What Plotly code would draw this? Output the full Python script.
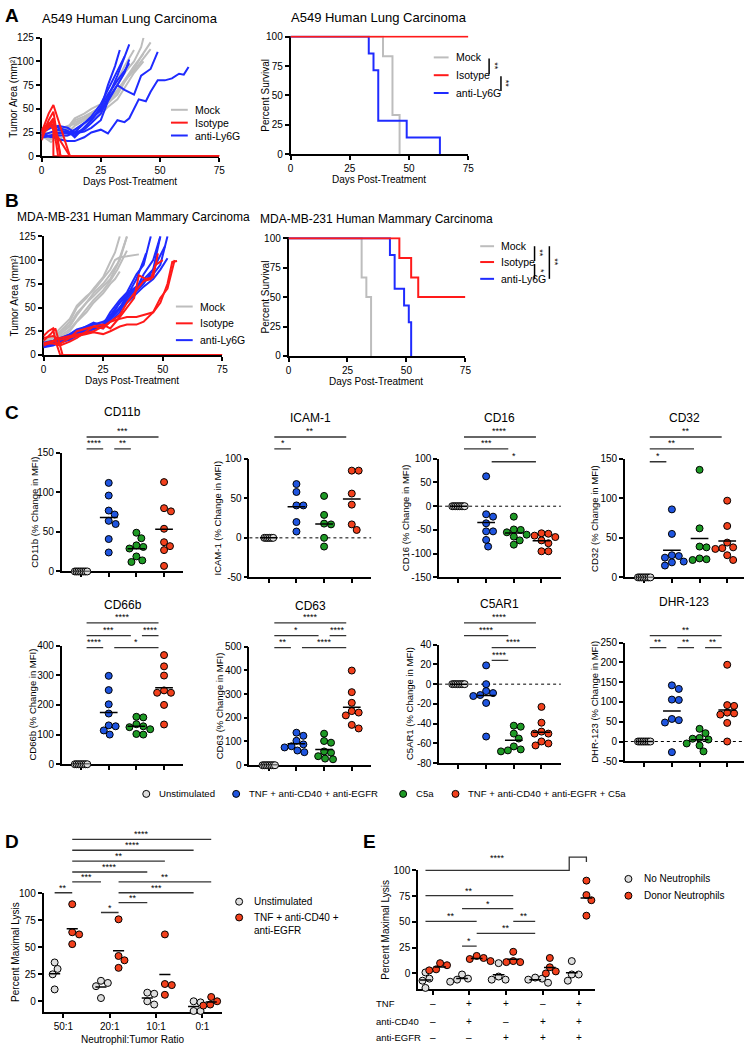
import numpy as np
import plotly.graph_objects as go

W, H = 751, 1050
FONT = "Arial, Liberation Sans, sans-serif"

# ---------------- Panel A: A549 tumour growth ----------------
a_mock_days = [[0, 4, 7, 11, 14, 18, 21, 25, 28, 32, 35, 39],
               [0, 4, 7, 11, 14, 18, 21, 25, 28, 32, 35, 39, 42, 43],
               [0, 4, 7, 11, 14, 18, 21, 25, 28, 32, 35, 39, 43],
               [0, 4, 7, 11, 14, 18, 21, 25, 28, 32, 35, 39, 43],
               [0, 4, 7, 11, 14, 18, 21, 25, 28, 32, 35, 39, 42, 46],
               [0, 4, 7, 11, 14, 18, 21, 25, 28, 32, 35, 39, 42, 46]]
a_mock_area = [[25, 18, 22, 30, 40, 45, 50, 55, 65, 80, 95, 112],
               [22, 15, 20, 28, 38, 42, 46, 52, 62, 75, 88, 100, 115, 125],
               [20, 18, 22, 25, 32, 38, 42, 48, 58, 68, 80, 95, 108],
               [24, 20, 18, 22, 28, 35, 38, 44, 52, 60, 72, 88, 100],
               [18, 22, 25, 30, 36, 40, 44, 50, 56, 65, 78, 92, 105, 120],
               [26, 24, 28, 32, 34, 40, 45, 52, 60, 70, 80, 90, 100, 113]]
a_iso_days = [[0, 3, 5, 12, 75], [0, 3, 5, 8, 75], [0, 2, 5, 5, 75],
              [0, 3, 5, 7, 75], [0, 3, 5, 8, 75], [0, 2, 4, 12, 75]]
a_iso_area = [[25, 45, 54, 0, 0], [20, 38, 47, 0, 0], [17, 30, 40, 0, 0],
              [28, 35, 33, 0, 0], [23, 30, 38, 0, 0], [26, 30, 32, 0, 0]]
a_ly6g_days = [[0, 4, 7, 11, 14, 18, 21, 25, 28, 31, 33],
               [0, 4, 7, 11, 14, 18, 21, 25, 28, 32, 35],
               [0, 4, 7, 11, 14, 18, 21, 25, 28, 32, 35, 37],
               [0, 4, 7, 11, 14, 18, 21, 25, 28, 32, 35, 37],
               [0, 4, 7, 11, 14, 18, 21, 25, 28, 32, 35, 37],
               [0, 4, 7, 11, 14, 18, 21, 25, 28, 32, 35, 39, 42, 46, 49],
               [0, 4, 7, 11, 14, 18, 21, 25, 28, 32, 35, 37, 41, 44, 46, 49, 52, 55, 58, 60, 62]]
a_ly6g_area = [[22, 25, 28, 25, 22, 30, 38, 50, 75, 95, 112],
               [25, 30, 32, 30, 25, 35, 42, 55, 70, 90, 105],
               [20, 22, 25, 24, 28, 35, 40, 48, 62, 85, 105, 118],
               [24, 20, 22, 22, 25, 28, 35, 45, 60, 75, 88, 102],
               [28, 33, 30, 27, 20, 30, 38, 52, 65, 80, 90, 98],
               [22, 22, 24, 26, 24, 26, 30, 38, 58, 75, 70, 65, 85, 92, 110],
               [20, 21, 18, 16, 16, 20, 25, 28, 24, 38, 36, 40, 60, 58, 68, 80, 80, 82, 87, 86, 94]]

# ---------------- Panel A: survival ----------------
a_surv_mock_t = [0, 39, 43, 46]
a_surv_mock_p = [100, 83.3, 33.3, 0]
a_surv_iso_t = [0, 75]
a_surv_iso_p = [100, 100]
a_surv_ly6g_t = [0, 33, 35, 37, 49, 63]
a_surv_ly6g_p = [100, 85.7, 71.4, 28.6, 14.3, 0]

# ---------------- Panel B: MDA-MB-231 tumour growth ----------------
b_mock_days = [[0, 4, 7, 11, 14, 18, 21, 25, 28, 30, 32],
               [0, 4, 7, 11, 14, 18, 21, 25, 28, 32, 35],
               [0, 4, 7, 11, 14, 18, 21, 25, 28, 30, 32, 35, 40],
               [0, 4, 7, 11, 14, 18, 21, 25, 28, 30, 32],
               [0, 4, 7, 11, 14, 18, 21, 25, 28, 31, 35],
               [0, 4, 7, 11, 14, 18, 21, 25, 28, 31, 35]]
b_mock_area = [[12, 18, 25, 35, 50, 60, 70, 82, 98, 108, 125],
               [10, 15, 22, 30, 42, 55, 65, 75, 85, 100, 125],
               [14, 20, 28, 38, 52, 62, 68, 80, 90, 100, 103, 104, 106],
               [8, 12, 18, 25, 35, 45, 55, 65, 75, 80, 88],
               [12, 14, 20, 27, 36, 48, 58, 68, 78, 90, 110],
               [15, 18, 24, 32, 44, 55, 62, 72, 80, 95, 125]]
b_iso_days = [[0, 2, 4, 5, 7, 75],
              [0, 3, 5, 8, 75],
              [0, 4, 7, 11, 14, 18, 21, 25, 28, 32, 35, 38, 40, 43, 46, 48],
              [0, 4, 7, 11, 14, 18, 21, 25, 28, 32, 35, 39, 42, 46, 49, 52, 54, 56],
              [0, 4, 7, 11, 14, 18, 21, 25, 28, 32, 35, 39, 42, 46, 49, 52, 55],
              [0, 4, 7, 11, 14, 18, 21, 25, 28, 32, 35, 38, 42, 45, 47, 50]]
b_iso_area = [[20, 25, 28, 15, 0, 0],
              [15, 22, 28, 0, 0],
              [12, 15, 12, 18, 25, 28, 30, 32, 28, 40, 50, 60, 84, 80, 82, 107],
              [10, 14, 18, 20, 22, 24, 25, 30, 35, 38, 40, 40, 42, 45, 55, 75, 98, 99],
              [18, 20, 16, 18, 20, 22, 24, 22, 25, 30, 32, 32, 35, 45, 60, 70, 100],
              [12, 12, 10, 14, 18, 25, 30, 28, 35, 42, 55, 65, 78, 80, 95, 100]]
b_ly6g_days = [[0, 4, 7, 11, 14, 18, 21, 25, 28, 32, 35, 39, 42, 43],
               [0, 4, 7, 11, 14, 18, 21, 25, 28, 32, 35, 39, 42, 45],
               [0, 4, 7, 11, 14, 18, 21, 25, 28, 32, 35, 39, 42, 46, 49],
               [0, 4, 7, 11, 14, 18, 21, 25, 28, 32, 35, 39, 42, 46, 49],
               [0, 4, 7, 11, 14, 18, 21, 25, 28, 32, 35, 39, 42, 46, 51],
               [0, 4, 7, 11, 14, 18, 21, 25, 28, 32, 35, 39, 42, 46, 49, 52],
               [0, 4, 7, 11, 14, 18, 21, 25, 28, 32, 35, 39, 42, 46, 49, 52]]
b_ly6g_area = [[10, 12, 14, 17, 22, 26, 30, 28, 40, 55, 62, 80, 100, 107],
               [12, 14, 16, 20, 24, 28, 33, 32, 45, 58, 66, 85, 95, 125],
               [8, 10, 13, 16, 20, 24, 27, 30, 35, 45, 60, 70, 85, 100, 125],
               [11, 11, 15, 20, 25, 30, 34, 30, 38, 50, 62, 72, 80, 90, 125],
               [9, 13, 17, 22, 27, 30, 32, 35, 40, 50, 58, 68, 75, 90, 115],
               [13, 15, 18, 21, 24, 26, 28, 32, 42, 55, 65, 72, 78, 85, 95, 125],
               [10, 12, 14, 18, 22, 24, 28, 30, 38, 48, 55, 65, 72, 80, 90, 102]]

# ---------------- Panel B: survival ----------------
b_surv_mock_t = [0, 31, 33, 35]
b_surv_mock_p = [100, 66.7, 50, 0]
b_surv_iso_t = [0, 47, 52, 55, 75]
b_surv_iso_p = [100, 83.3, 66.7, 50, 50]
b_surv_ly6g_t = [0, 43, 45, 49, 51, 52]
b_surv_ly6g_p = [100, 85.7, 57.1, 42.9, 28.6, 0]

# ---------------- Panel C: % change in MFI ----------------
c_groups = ["Unstimulated", "TNF + anti-CD40 + anti-EGFR", "C5a",
            "TNF + anti-CD40 + anti-EGFR + C5a"]
cd11b_unstim = [0, 0, 0, 0, 0, 0, 0, 0]
cd11b_tnf = [112, 96, 77, 72, 64, 60, 41, 24]
cd11b_c5a = [49, 42, 33, 31, 29, 19, 14, 12]
cd11b_combo = [113, 80, 76, 54, 37, 32, 27, 7]
icam_unstim = [0, 0, 0, 0, 0, 0]
icam_tnf = [68, 58, 41, 41, 20, 8]
icam_c5a = [53, 29, 18, 17, 0, -11]
icam_combo = [85, 85, 56, 42, 17, 10]
cd16_unstim = [0, 0, 0, 0, 0, 0, 0, 0]
cd16_tnf = [63, -17, -22, -36, -53, -53, -71, -85]
cd16_c5a = [-22, -49, -50, -55, -60, -64, -72, -81]
cd16_combo = [-57, -58, -62, -65, -72, -78, -95, -95]
cd32_unstim = [0, 0, 0, 0, 0, 0, 0, 0]
cd32_tnf = [86, 55, 28, 27, 25, 20, 19, 15]
cd32_c5a = [136, 62, 39, 38, 24, 23, 22]
cd32_combo = [97, 65, 44, 38, 37, 36, 28, 22]
cd66b_unstim = [0, 0, 0, 0, 0, 0, 0, 0]
cd66b_tnf = [298, 250, 202, 171, 131, 128, 114, 100]
cd66b_c5a = [160, 158, 135, 128, 125, 118, 102, 100]
cd66b_combo = [368, 330, 299, 249, 241, 241, 200, 134]
cd63_unstim = [0, 0, 0, 0, 0, 0, 0, 0]
cd63_tnf = [137, 124, 103, 88, 80, 75, 62, 55]
cd63_c5a = [133, 102, 95, 58, 53, 38, 28, 25]
cd63_combo = [399, 308, 263, 228, 222, 210, 170, 155]
c5ar1_unstim = [0, 0, 0, 0, 0, 0, 0, 0]
c5ar1_tnf = [19, 0, -7, -9, -11, -12, -19, -53]
c5ar1_c5a = [-42, -43, -50, -55, -63, -66, -67, -68]
c5ar1_combo = [-23, -39, -48, -50, -50, -58, -60, -62]
dhr_unstim = [0, 0, 0, 0, 0, 0, 0, 0]
dhr_tnf = [142, 133, 106, 105, 57, 54, 48, -27]
dhr_c5a = [32, 21, 9, 7, 5, -5, -10, -25]
dhr_combo = [194, 92, 90, 73, 71, 68, 47, 0]

# ---------------- Panel D: lysis vs ratio ----------------
d_ratios = ["50:1", "20:1", "10:1", "0:1"]
d_unstim = [[36, 30, 25, 11], [19, 17, 14, 3], [8, 7, 0, -3], [0, -1, -9, -9]]
d_tnf = [[90, 64, 62, 53], [76, 42, 38, 31], [62, 16, 15, 6], [4, 0, -3, -4]]

# ---------------- Panel E: lysis by treatment ----------------
e_tnf = ["–", "+", "+", "–", "+"]
e_cd40 = ["–", "+", "–", "+", "+"]
e_egfr = ["–", "–", "+", "+", "+"]
e_none = [[1, -5, -7, -14], [-1, -5, -6, -8], [10, -3, -6, -6], [-4, -5, -6, -9], [12, -1, -1, -7]]
e_donor = [[10, 8, 4, 3], [17, 15, 14, 12], [21, 12, 11, 11], [15, 6, 2, 0], [90, 76, 71, 56]]

# colours
C_GREY, C_RED, C_BLUE = "#BDBDBD", "#FF1A1A", "#1F2BFF"
M_UN, M_BLUE, M_GREEN, M_RED = "#DEDEDE", "#1F55E0", "#1E9A25", "#F2401C"


def fx(x):
    return x / W


def fy(y):
    return 1 - y / H


fig = go.Figure()
lay = {}
shapes = []
annots = []


def refs(n):
    return ("x", "y") if n == 1 else (f"x{n}", f"y{n}")


def add_axes(n, x0, x1, ytop, ybot, xr, yr, xt, yt, xtt=None, xlabels=True):
    common = dict(showline=True, linecolor="black", linewidth=1.5, ticks="outside",
                  ticklen=4, tickwidth=1.5, tickcolor="black", showgrid=False,
                  zeroline=False, fixedrange=True, layer="below traces",
                  tickfont=dict(family=FONT, size=10, color="black"))
    xr_, yr_ = refs(n)
    lay["xaxis" if n == 1 else f"xaxis{n}"] = dict(
        common, domain=[fx(x0), fx(x1)], range=xr, anchor=yr_, tickvals=xt,
        ticktext=xtt, showticklabels=xlabels)
    lay["yaxis" if n == 1 else f"yaxis{n}"] = dict(
        common, domain=[fy(ybot), fy(ytop)], range=yr, anchor=xr_, tickvals=yt,
        ticktext=[str(v) for v in yt])


def text(x, y, s, size=11, angle=0, xanchor="center", bold=False):
    annots.append(dict(x=fx(x), y=fy(y), xref="paper", yref="paper", text=s,
                       showarrow=False, textangle=angle, xanchor=xanchor,
                       yanchor="middle",
                       font=dict(family=FONT, size=size, color="black")))


def line_px(x0, y0, x1, y1, color="black", width=1.5):
    shapes.append(dict(type="line", xref="paper", yref="paper", x0=fx(x0), x1=fx(x1),
                       y0=fy(y0), y1=fy(y1), line=dict(color=color, width=width)))


def dot_px(x, y, color, d=7):
    shapes.append(dict(type="circle", xref="paper", yref="paper", xsizemode="pixel",
                       ysizemode="pixel", xanchor=fx(x), yanchor=fy(y),
                       x0=-d / 2, x1=d / 2, y0=-d / 2, y1=d / 2,
                       fillcolor=color, line=dict(color="black", width=1)))


def curves(n, days, vals, color):
    xr_, yr_ = refs(n)
    for d, v in zip(days, vals):
        fig.add_trace(go.Scatter(x=d, y=v, mode="lines", xaxis=xr_, yaxis=yr_,
                                 line=dict(color=color, width=2), hoverinfo="skip"))


def steps(n, t, p, color):
    xr_, yr_ = refs(n)
    fig.add_trace(go.Scatter(x=t, y=p, mode="lines", line_shape="hv", xaxis=xr_,
                             yaxis=yr_, line=dict(color=color, width=2),
                             hoverinfo="skip"))


def swarm(vals, ppu, d=7.0):
    vals = np.asarray(vals, float)
    n = len(vals)
    if np.ptp(vals) == 0:
        return (np.arange(n) - (n - 1) / 2) * 1.8
    order = np.argsort(-vals, kind="stable")
    placed, off = [], np.zeros(n)
    cands = [0.0] + [s * k for k in range(1, 60) for s in (1, -1)]
    for i in order:
        y = vals[i] * ppu
        for c in cands:
            if all((c - a) ** 2 + (y - b) ** 2 >= d * d for a, b in placed):
                break
        off[i] = c
        placed.append((c, y))
    return off


def dots(n, pos, vals, color, ppu, ppc, hw):
    xr_, yr_ = refs(n)
    off = swarm(vals, ppu) / ppc
    fig.add_trace(go.Scatter(x=pos + off, y=vals, mode="markers", xaxis=xr_, yaxis=yr_,
                             cliponaxis=False, hoverinfo="skip",
                             marker=dict(size=7, color=color,
                                         line=dict(color="black", width=1))))
    m = float(np.mean(vals))
    fig.add_trace(go.Scatter(x=[pos - hw, pos + hw], y=[m, m], mode="lines",
                             xaxis=xr_, yaxis=yr_, hoverinfo="skip",
                             line=dict(color="black", width=1.5)))


def sig(n, xa, xb, level, label, lab_dy=6):
    xr_, _ = refs(n)
    shapes.append(dict(type="line", xref=xr_, yref="paper", x0=xa, x1=xb,
                       y0=fy(level), y1=fy(level), line=dict(color="#333333", width=1.3)))
    annots.append(dict(x=(xa + xb) / 2, y=fy(level - lab_dy), xref=xr_, yref="paper",
                       text=label, showarrow=False, yanchor="middle",
                       font=dict(family=FONT, size=9, color="black")))


# ---------- A / B growth panels ----------
add_axes(1, 39, 219, 32, 152, [0, 75], [0, 125], [0, 25, 50, 75], [0, 25, 50, 75, 100, 125])
curves(1, a_mock_days, a_mock_area, C_GREY)
curves(1, a_ly6g_days, a_ly6g_area, C_BLUE)
curves(1, a_iso_days, a_iso_area, C_RED)

add_axes(2, 291, 471, 30, 150, [0, 75], [0, 100.8], [0, 25, 50, 75], [0, 25, 50, 75, 100])
steps(2, a_surv_mock_t, a_surv_mock_p, C_GREY)
steps(2, a_surv_ly6g_t, a_surv_ly6g_p, C_BLUE)
steps(2, a_surv_iso_t, a_surv_iso_p, C_RED)

add_axes(3, 41, 222, 233, 353, [0, 75], [0, 125], [0, 25, 50, 75], [0, 25, 50, 75, 100, 125])
curves(3, b_mock_days, b_mock_area, C_GREY)
curves(3, b_ly6g_days, b_ly6g_area, C_BLUE)
curves(3, b_iso_days, b_iso_area, C_RED)

add_axes(4, 289, 468, 234, 354, [0, 75], [0, 100.8], [0, 25, 50, 75], [0, 25, 50, 75, 100])
steps(4, b_surv_mock_t, b_surv_mock_p, C_GREY)
steps(4, b_surv_ly6g_t, b_surv_ly6g_p, C_BLUE)
steps(4, b_surv_iso_t, b_surv_iso_p, C_RED)

text(129, 13, "A549 Human Lung Carcinoma", 13)
text(381, 12, "A549 Human Lung Carcinoma", 13)
text(132, 213, "MDA-MB-231 Human Mammary Carcinoma", 12)
text(378, 215, "MDA-MB-231 Human Mammary Carcinoma", 12)
for x, y in [(129, 178), (381, 176), (131, 379), (378, 380)]:
    text(x, y, "Days Post-Treatment", 10)
text(11, 92, "Tumor Area (mm²)", 10, -90)
text(12, 293, "Tumor Area (mm²)", 10, -90)
text(266, 90, "Percent Survival", 10, -90)
text(266, 294, "Percent Survival", 10, -90)

leg_names = ["Mock", "Isotype", "anti-Ly6G"]
leg_cols = [C_GREY, C_RED, C_BLUE]
for (lx0, lx1, tx, ys) in [(170, 187, 192, [105, 118, 131]),
                           (436, 451, 456, [52, 70, 88]),
                           (175, 192, 197, [304, 321, 338]),
                           (483, 497, 502, [243, 259, 276])]:
    for nm, col, yy in zip(leg_names, leg_cols, ys):
        line_px(lx0, yy, lx1, yy, col, 2)
        text(tx, yy, nm, 10.5, xanchor="left")

# survival significance brackets
for (x, y0, y1, lab) in [(492, 53, 69, "**"), (504, 71, 86, "**"),
                         (538, 243, 258, "**"), (538, 261, 276, "*"), (553, 243, 276, "**")]:
    line_px(x, y0, x, y1, "black", 1.5)
    text(x + 6, (y0 + y1) / 2, lab, 9, 90)

# ---------- C panels ----------
PPC = 28
c_panels = [
    (5, 79, 452, 572, [0, 150], [0, 50, 100, 150], "CD11b", 32, False,
     [cd11b_unstim, cd11b_tnf, cd11b_c5a, cd11b_combo],
     [(0, 1, 448, "****"), (1, 2, 448, "**"), (0, 3, 436, "***")]),
    (6, 269, 458, 578, [-50, 100], [-50, 0, 50, 100], "ICAM-1", 217, True,
     [icam_unstim, icam_tnf, icam_c5a, icam_combo],
     [(0, 1, 448, "*"), (0, 3, 436, "**")]),
    (7, 461, 458, 578, [-150, 100], [-150, -100, -50, 0, 50, 100], "CD16", 407, True,
     [cd16_unstim, cd16_tnf, cd16_c5a, cd16_combo],
     [(0, 3, 436, "****"), (0, 2, 448, "***"), (1, 3, 461, "*")]),
    (8, 649, 458, 578, [0, 150], [0, 50, 100, 150], "CD32", 598, False,
     [cd32_unstim, cd32_tnf, cd32_c5a, cd32_combo],
     [(0, 3, 436, "**"), (0, 2, 448, "**"), (0, 1, 461, "*")]),
    (9, 79, 647, 767, [0, 400], [0, 100, 200, 300, 400], "CD66b", 30, False,
     [cd66b_unstim, cd66b_tnf, cd66b_c5a, cd66b_combo],
     [(0, 3, 624, "****"), (0, 2, 637, "***"), (2, 3, 637, "****"),
      (0, 1, 649, "****"), (1, 3, 649, "*")]),
    (10, 269, 648, 768, [0, 500], [0, 100, 200, 300, 400, 500], "CD63", 220, False,
     [cd63_unstim, cd63_tnf, cd63_c5a, cd63_combo],
     [(0, 3, 624, "****"), (0, 2, 637, "*"), (2, 3, 637, "****"),
      (0, 1, 649, "**"), (1, 3, 649, "****")]),
    (11, 461, 646, 766, [-80, 40], [-80, -60, -40, -20, 0, 20, 40], "C5AR1", 412, True,
     [c5ar1_unstim, c5ar1_tnf, c5ar1_c5a, c5ar1_combo],
     [(0, 3, 624, "****"), (0, 2, 637, "****"), (1, 3, 649, "****"), (1, 2, 662, "****")]),
    (12, 649, 644, 764, [-50, 250], [-50, 0, 50, 100, 150, 200, 250], "DHR-123", 599, True,
     [dhr_unstim, dhr_tnf, dhr_c5a, dhr_combo],
     [(0, 3, 637, "**"), (0, 1, 649, "**"), (1, 2, 649, "**"), (2, 3, 649, "**")]),
]
c_cols = [M_UN, M_BLUE, M_GREEN, M_RED]
for (n, x0, ytop, ybot, yr, yt, name, ytx, dotted, groups, bars) in c_panels:
    left = x0 - 0.7 * PPC
    right = min(x0 + 3.7 * PPC, 750)
    add_axes(n, left, right, ytop, ybot, [-0.7, (right - x0) / PPC], yr,
             [0, 1, 2, 3], yt, xlabels=False)
    ppu = (ybot - ytop) / (yr[1] - yr[0])
    if dotted:
        xr_, yr_ = refs(n)
        shapes.append(dict(type="line", xref=f"{xr_} domain", yref=yr_, x0=0, x1=1,
                           y0=0, y1=0, layer="below",
                           line=dict(color="black", width=1, dash="dot")))
    for g, (vals, col) in enumerate(zip(groups, c_cols)):
        dots(n, g, vals, col, ppu, PPC, 0.32)
    for (a, b, lev, lab) in bars:
        sig(n, a + 0.2, b - 0.2, lev, lab)
    text((left + right) / 2, ytop - 41, name, 12)
    text(ytx, (ytop + ybot) / 2, f"{name} (% Change in MFI)", 9.5, -90)

for x, col, lab in [(145, M_UN, c_groups[0]), (236, M_BLUE, c_groups[1]),
                    (405, M_GREEN, c_groups[2]), (458, M_RED, c_groups[3])]:
    dot_px(x, 797, col)
    text(x + 11, 797, lab, 9.6, xanchor="left")

# ---------- D ----------
D_PPC = 47
add_axes(13, 41, 222, 897.7, 1017.7, [-0.43, 3.43], [-10, 100], [0, 1, 2, 3],
         [0, 25, 50, 75, 100], xtt=d_ratios)
for g in range(4):
    dots(13, g - 0.19, d_unstim[g], M_UN, 120 / 110, D_PPC, 0.12)
    dots(13, g + 0.19, d_tnf[g], M_RED, 120 / 110, D_PPC, 0.12)


def dcol(g, s):
    return g + (-0.19 if s == "g" else 0.19)


d_bars = [((0, "r"), (3, "r"), 843, "****"), ((0, "r"), (3, "g"), 854, "****"),
          ((0, "r"), (2, "r"), 865, "**"), ((0, "r"), (2, "g"), 876, "****"),
          ((0, "r"), (1, "g"), 886, "***"), ((0, "g"), (0, "r"), 897, "**"),
          ((1, "r"), (3, "r"), 886, "**"), ((1, "r"), (3, "g"), 897, "***"),
          ((1, "r"), (2, "g"), 907, "**"), ((1, "g"), (1, "r"), 917, "*")]
for a, b, lev, lab in d_bars:
    sig(13, dcol(*a), dcol(*b), lev, lab, 5)
text(12, 957, "Percent Maximal Lysis", 10, -90)
text(131, 1045, "Neutrophil:Tumor Ratio", 10)
dot_px(239, 906, M_UN)
text(252, 906, "Unstimulated", 10, xanchor="left")
dot_px(239, 922, M_RED)
text(252, 922, "TNF + anti-CD40 +", 10, xanchor="left")
text(252, 935, "anti-EGFR", 10, xanchor="left")

# ---------- E ----------
E_PPC = 37
add_axes(14, 420, 599, 874.3, 994.3, [-0.405, 4.43], [-15, 100], [0, 1, 2, 3, 4],
         [0, 25, 50, 75, 100], xlabels=False)
for g in range(5):
    dots(14, g - 0.2, e_none[g], M_UN, 120 / 115, E_PPC, 0.16)
    dots(14, g + 0.2, e_donor[g], M_RED, 120 / 115, E_PPC, 0.16)


def ecol(g, s):
    return g + (-0.2 if s == "g" else 0.2)


e_bars = [((0, "g"), (2, "r"), 900, "**"), ((1, "g"), (2, "r"), 913, "*"),
          ((0, "g"), (1, "r"), 926, "**"), ((2, "r"), (3, "g"), 926, "**"),
          ((1, "r"), (3, "g"), 938, "**"), ((1, "g"), (1, "r"), 951, "*")]
for a, b, lev, lab in e_bars:
    sig(14, ecol(*a), ecol(*b), lev, lab, 5)
xa, xb, xc = ecol(0, "g"), ecol(4, "g") - 0.07, ecol(4, "r")
shapes.append(dict(type="path", xref="x14", yref="paper",
                   path=f"M {xa},{fy(874.3)} L {xb},{fy(874.3)} L {xb},{fy(861)} "
                        f"L {xc},{fy(861)} L {xc},{fy(866)}",
                   line=dict(color="#333333", width=1.3)))
annots.append(dict(x=(xa + xb) / 2, y=fy(869), xref="x14", yref="paper", text="****",
                   showarrow=False, font=dict(family=FONT, size=9, color="black")))
for row, signs, yy in [("TNF", e_tnf, 1009), ("anti-CD40", e_cd40, 1027),
                       ("anti-EGFR", e_egfr, 1043)]:
    text(376, yy, row, 9.5, xanchor="left")
    for g, s in enumerate(signs):
        annots.append(dict(x=g, y=fy(yy), xref="x14", yref="paper", text=s,
                           showarrow=False, yanchor="middle",
                           font=dict(family=FONT, size=10, color="black")))
text(387, 934, "Percent Maximal Lysis", 10, -90)
dot_px(633, 883, M_UN)
text(647, 883, "No Neutrophils", 10, xanchor="left")
dot_px(633, 900, M_RED)
text(647, 900, "Donor Neutrophils", 10, xanchor="left")

# panel letters
for lt, x, y in [("A", 9, 10), ("B", 9, 197), ("C", 9, 411), ("D", 9, 845), ("E", 371, 845)]:
    annots.append(dict(x=fx(x), y=fy(y), xref="paper", yref="paper", text=f"<b>{lt}</b>",
                       showarrow=False, xanchor="center", yanchor="middle",
                       font=dict(family=FONT, size=19, color="black")))

fig.update_layout(width=W, height=H, margin=dict(l=0, r=0, t=0, b=0),
                  paper_bgcolor="white", plot_bgcolor="white", showlegend=False,
                  shapes=shapes, annotations=annots, **lay)
fig.write_html("out.html", config={"displayModeBar": False},
               post_script="document.body.style.margin='0px';")
